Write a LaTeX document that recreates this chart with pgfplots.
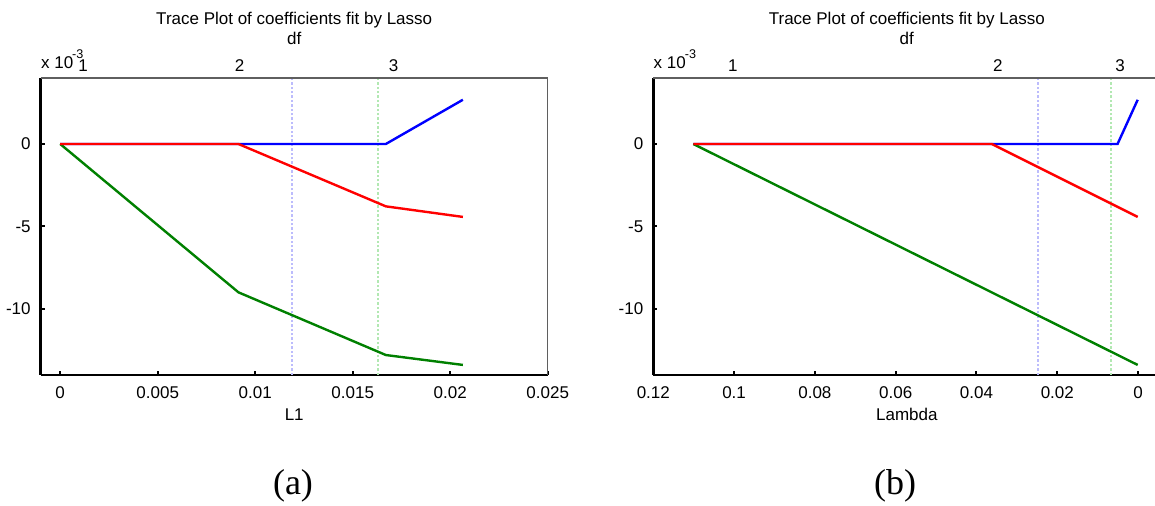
\documentclass[border=0pt]{standalone}
\usepackage{fontspec}
\setmainfont{Liberation Sans}
\newfontfamily\seriffont{Liberation Serif}
\usepackage{pgfplots}
\pgfplotsset{compat=1.18}
\definecolor{mblue}{rgb}{0,0,1}
\definecolor{mred}{rgb}{1,0,0}
\definecolor{mgreen}{rgb}{0,0.5,0}
\definecolor{vblue}{RGB}{188,188,252}
\definecolor{vgreen}{RGB}{178,232,178}
\definecolor{framegray}{RGB}{95,95,95}
\pgfplotsset{
  lassostyle/.style={
    scale only axis, width=253.5pt, height=148.5pt, anchor=south west,
    ymin=-14, ymax=4,
    scaled x ticks=false, scaled y ticks=false,
    axis x line*=bottom, axis y line*=left,
    axis line style={-, line width=1.3pt, black},
    tick align=inside, major tick length=2pt,
    tick style={line width=1pt, black},
    ytick={-10,-5,0}, yticklabels={-10,-5,0},
    ticklabel style={font=\fontsize{8.5}{10}\selectfont},
    xticklabel style={yshift=-2.5pt},
    yticklabel style={xshift=-1.5pt},
    clip mode=individual,
    every axis plot/.append style={line width=1.2pt},
  },
}
\tikzset{
  dfl/.style={font=\fontsize{8.5}{10}\selectfont, anchor=base, inner sep=0pt, yshift=3pt},
  xten/.style={font=\fontsize{8.5}{10}\selectfont, anchor=base west, inner sep=0pt, yshift=4.5pt},
}
\newcommand{\xten}{x 10\kern-0.5pt\raisebox{5pt}{\fontsize{6.3}{7}\selectfont -3}}
\begin{document}
\begin{tikzpicture}
\path[use as bounding box] (0,0) rectangle (577.5pt,253pt);
% ---------- (a) ----------
\begin{axis}[lassostyle, at={(20.35pt,65.5pt)},
  xmin=-0.001, xmax=0.025,
  xtick={0,0.005,0.01,0.015,0.02,0.025},
  xticklabels={0,0.005,0.01,0.015,0.02,0.025}]
\addplot[vblue, densely dotted, line width=1pt] coordinates {(0.01188,-14) (0.01188,4)};
\addplot[vgreen, densely dotted, line width=1pt] coordinates {(0.01632,-14) (0.01632,4)};
\addplot[mblue] coordinates {(0,0) (0.00914,0) (0.0167,0) (0.02065,2.68)};
\addplot[mgreen] coordinates {(0,0) (0.00914,-8.99) (0.0167,-12.79) (0.02065,-13.39)};
\addplot[mred] coordinates {(0,0) (0.00914,0) (0.0167,-3.78) (0.02065,-4.42)};
\draw[framegray, line width=0.7pt] (rel axis cs:0,1) -- (rel axis cs:1,1) -- (rel axis cs:1,0);
\node[dfl] at (axis cs:0.00118,4) {1};
\node[dfl] at (axis cs:0.0092,4) {2};
\node[dfl] at (axis cs:0.0171,4) {3};
\node[xten] at (rel axis cs:0,1) {\xten};
\end{axis}
% ---------- (b) ----------
\begin{axis}[lassostyle, at={(326.65pt,65.5pt)}, x dir=reverse,
  xmin=-0.0055, xmax=0.12,
  xtick={0,0.02,0.04,0.06,0.08,0.1,0.12},
  xticklabels={0,0.02,0.04,0.06,0.08,0.1,0.12}]
\addplot[vblue, densely dotted, line width=1pt] coordinates {(0.02483,-14) (0.02483,4)};
\addplot[vgreen, densely dotted, line width=1pt] coordinates {(0.00668,-14) (0.00668,4)};
\addplot[mblue] coordinates {(0.1101,0) (0.00508,0) (0.0001,2.68)};
\addplot[mgreen] coordinates {(0.1101,0) (0.0001,-13.39)};
\addplot[mred] coordinates {(0.1101,0) (0.0362,0) (0.0001,-4.42)};
\draw[framegray, line width=0.7pt] (rel axis cs:0,1) -- (rel axis cs:1,1) -- (rel axis cs:1,0);
\node[dfl] at (axis cs:0.1003,4) {1};
\node[dfl] at (axis cs:0.0347,4) {2};
\node[dfl] at (axis cs:0.00446,4) {3};
\node[xten] at (rel axis cs:0,1) {\xten};
\end{axis}
% ---------- titles and labels ----------
\node[anchor=base, font=\fontsize{8.5}{10}\selectfont] at (147.1pt,240.5pt) {Trace Plot of coefficients fit by Lasso};
\node[anchor=base, font=\fontsize{8.5}{10}\selectfont] at (147.1pt,230.5pt) {df};
\node[anchor=base, font=\fontsize{8.5}{10}\selectfont] at (453.4pt,240.5pt) {Trace Plot of coefficients fit by Lasso};
\node[anchor=base, font=\fontsize{8.5}{10}\selectfont] at (453.4pt,230.5pt) {df};
\node[anchor=base, font=\fontsize{8.5}{10}\selectfont] at (147.1pt,42.5pt) {L1};
\node[anchor=base, font=\fontsize{8.5}{10}\selectfont] at (453.4pt,42.5pt) {Lambda};
\node[anchor=base, font=\seriffont\fontsize{18}{20}\selectfont] at (146.5pt,5.5pt) {(a)};
\node[anchor=base, font=\seriffont\fontsize{18}{20}\selectfont] at (447.5pt,5.5pt) {(b)};
\end{tikzpicture}
\end{document}
